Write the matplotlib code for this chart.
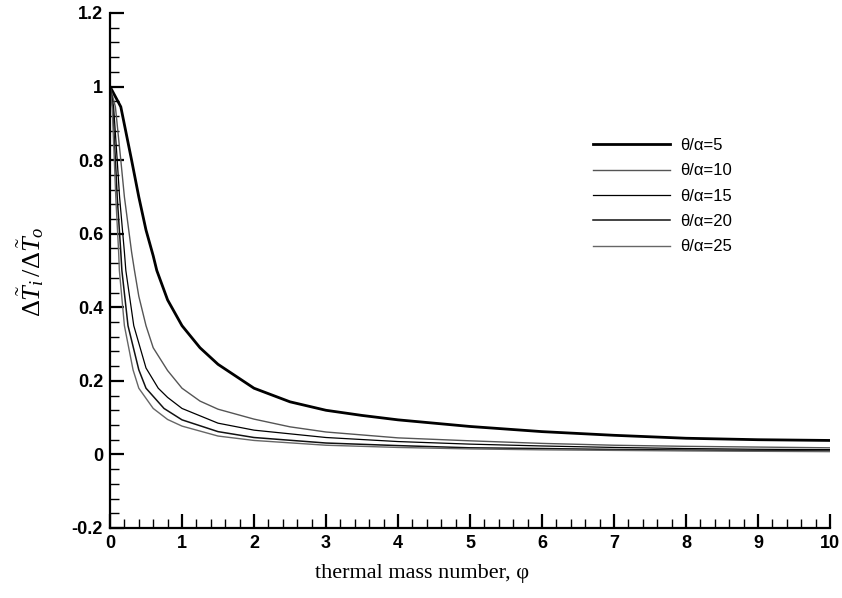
import matplotlib
matplotlib.use("Agg")
import matplotlib.pyplot as plt
from matplotlib.ticker import MultipleLocator, FuncFormatter

plt.rcParams['mathtext.fontset'] = 'custom'
plt.rcParams['mathtext.rm'] = 'Liberation Serif'
plt.rcParams['mathtext.it'] = 'Liberation Serif:italic'

# --- data ---
phi_5 = [0, 0.15, 0.3, 0.4, 0.5, 0.6, 0.65, 0.8, 1.0, 1.25, 1.5, 2.0, 2.5, 3.0, 3.5, 4.0, 5.0, 6.0, 7.0, 8.0, 9.0, 10.0]
val_5 = [1.0, 0.945, 0.80, 0.70, 0.61, 0.54, 0.50, 0.42, 0.35, 0.29, 0.245, 0.18, 0.143, 0.12, 0.106, 0.094, 0.076, 0.062, 0.052, 0.044, 0.040, 0.038]

phi_10 = [0, 0.075, 0.15, 0.2, 0.3, 0.34, 0.4, 0.5, 0.6, 0.8, 1.0, 1.25, 1.5, 2.0, 2.5, 3.0, 4.0, 5.0, 6.0, 7.0, 8.0, 9.0, 10.0]
val_10 = [1.0, 0.945, 0.80, 0.70, 0.55, 0.50, 0.43, 0.35, 0.29, 0.228, 0.18, 0.145, 0.123, 0.096, 0.075, 0.061, 0.045, 0.037, 0.030, 0.025, 0.022, 0.020, 0.018]

phi_15 = [0, 0.05, 0.1, 0.133, 0.2, 0.22, 0.33, 0.5, 0.67, 0.8, 1.0, 1.5, 2.0, 3.0, 4.0, 5.0, 6.0, 7.0, 8.0, 9.0, 10.0]
val_15 = [1.0, 0.945, 0.80, 0.70, 0.55, 0.50, 0.35, 0.235, 0.18, 0.155, 0.125, 0.085, 0.066, 0.046, 0.035, 0.028, 0.023, 0.019, 0.016, 0.014, 0.013]

phi_20 = [0, 0.0375, 0.075, 0.1, 0.15, 0.165, 0.25, 0.4, 0.5, 0.75, 1.0, 1.5, 2.0, 3.0, 4.0, 5.0, 6.0, 7.0, 8.0, 9.0, 10.0]
val_20 = [1.0, 0.945, 0.80, 0.70, 0.55, 0.50, 0.35, 0.23, 0.18, 0.125, 0.094, 0.062, 0.046, 0.031, 0.024, 0.018, 0.016, 0.0135, 0.012, 0.0105, 0.0095]

phi_25 = [0, 0.03, 0.06, 0.08, 0.12, 0.13, 0.2, 0.32, 0.4, 0.6, 0.8, 1.0, 1.5, 2.0, 3.0, 4.0, 5.0, 6.0, 7.0, 8.0, 9.0, 10.0]
val_25 = [1.0, 0.945, 0.80, 0.70, 0.55, 0.50, 0.35, 0.23, 0.18, 0.125, 0.095, 0.077, 0.05, 0.038, 0.025, 0.019, 0.015, 0.0125, 0.011, 0.0095, 0.0085, 0.0076]

labels = ["θ/α=5", "θ/α=10", "θ/α=15", "θ/α=20", "θ/α=25"]

series = [(phi_5, val_5), (phi_10, val_10), (phi_15, val_15), (phi_20, val_20), (phi_25, val_25)]
colors = ["#000000", "#555555", "#000000", "#111111", "#666666"]
widths = [2.0, 1.0, 0.9, 1.1, 1.0]

fig = plt.figure(figsize=(8.42, 5.98), dpi=100)
ax = fig.add_axes([110/842, 70/598, 720/842, 515/598])

for (x, y), lab, c, w in zip(series, labels, colors, widths):
    ax.plot(x, y, color=c, lw=w, label=lab)

ax.set_xlim(0, 10)
ax.set_ylim(-0.2, 1.2)
ax.xaxis.set_major_locator(MultipleLocator(1))
ax.xaxis.set_minor_locator(MultipleLocator(0.2))
ax.yaxis.set_major_locator(MultipleLocator(0.2))
ax.yaxis.set_minor_locator(MultipleLocator(0.04))

ax.spines['top'].set_visible(False)
ax.spines['right'].set_visible(False)
ax.spines['left'].set_linewidth(1.6)
ax.spines['bottom'].set_linewidth(1.6)

ax.tick_params(which='major', direction='in', length=10, width=1.6, labelsize=13, pad=5)
ax.tick_params(which='minor', direction='in', length=6.5, width=1.0)

def fmt(v, _):
    if abs(v) < 1e-9:
        return "0"
    if abs(v - round(v)) < 1e-9:
        return str(int(round(v)))
    return f"{v:.1f}"
ax.xaxis.set_major_formatter(FuncFormatter(fmt))
ax.yaxis.set_major_formatter(FuncFormatter(fmt))
for lbl in ax.get_xticklabels() + ax.get_yticklabels():
    lbl.set_family('Liberation Sans')
    lbl.set_fontweight('bold')

ax.set_xlabel("thermal mass number, φ", family='Liberation Serif', fontsize=16, labelpad=8)
ax.xaxis.set_label_coords(0.433, -0.07)
ax.set_ylabel(r'$\Delta\tilde{T}_i\,/\Delta\tilde{T}_o$', fontsize=19)
ax.yaxis.set_label_coords(-0.088, 0.497)

leg = ax.legend(loc='upper left', bbox_to_anchor=(0.671, 0.757), frameon=False,
                prop={'family': 'Liberation Sans', 'size': 12},
                handlelength=4.6, handletextpad=0.6, labelspacing=0.62,
                borderpad=0, borderaxespad=0)

fig.savefig("out.png", dpi=100)
